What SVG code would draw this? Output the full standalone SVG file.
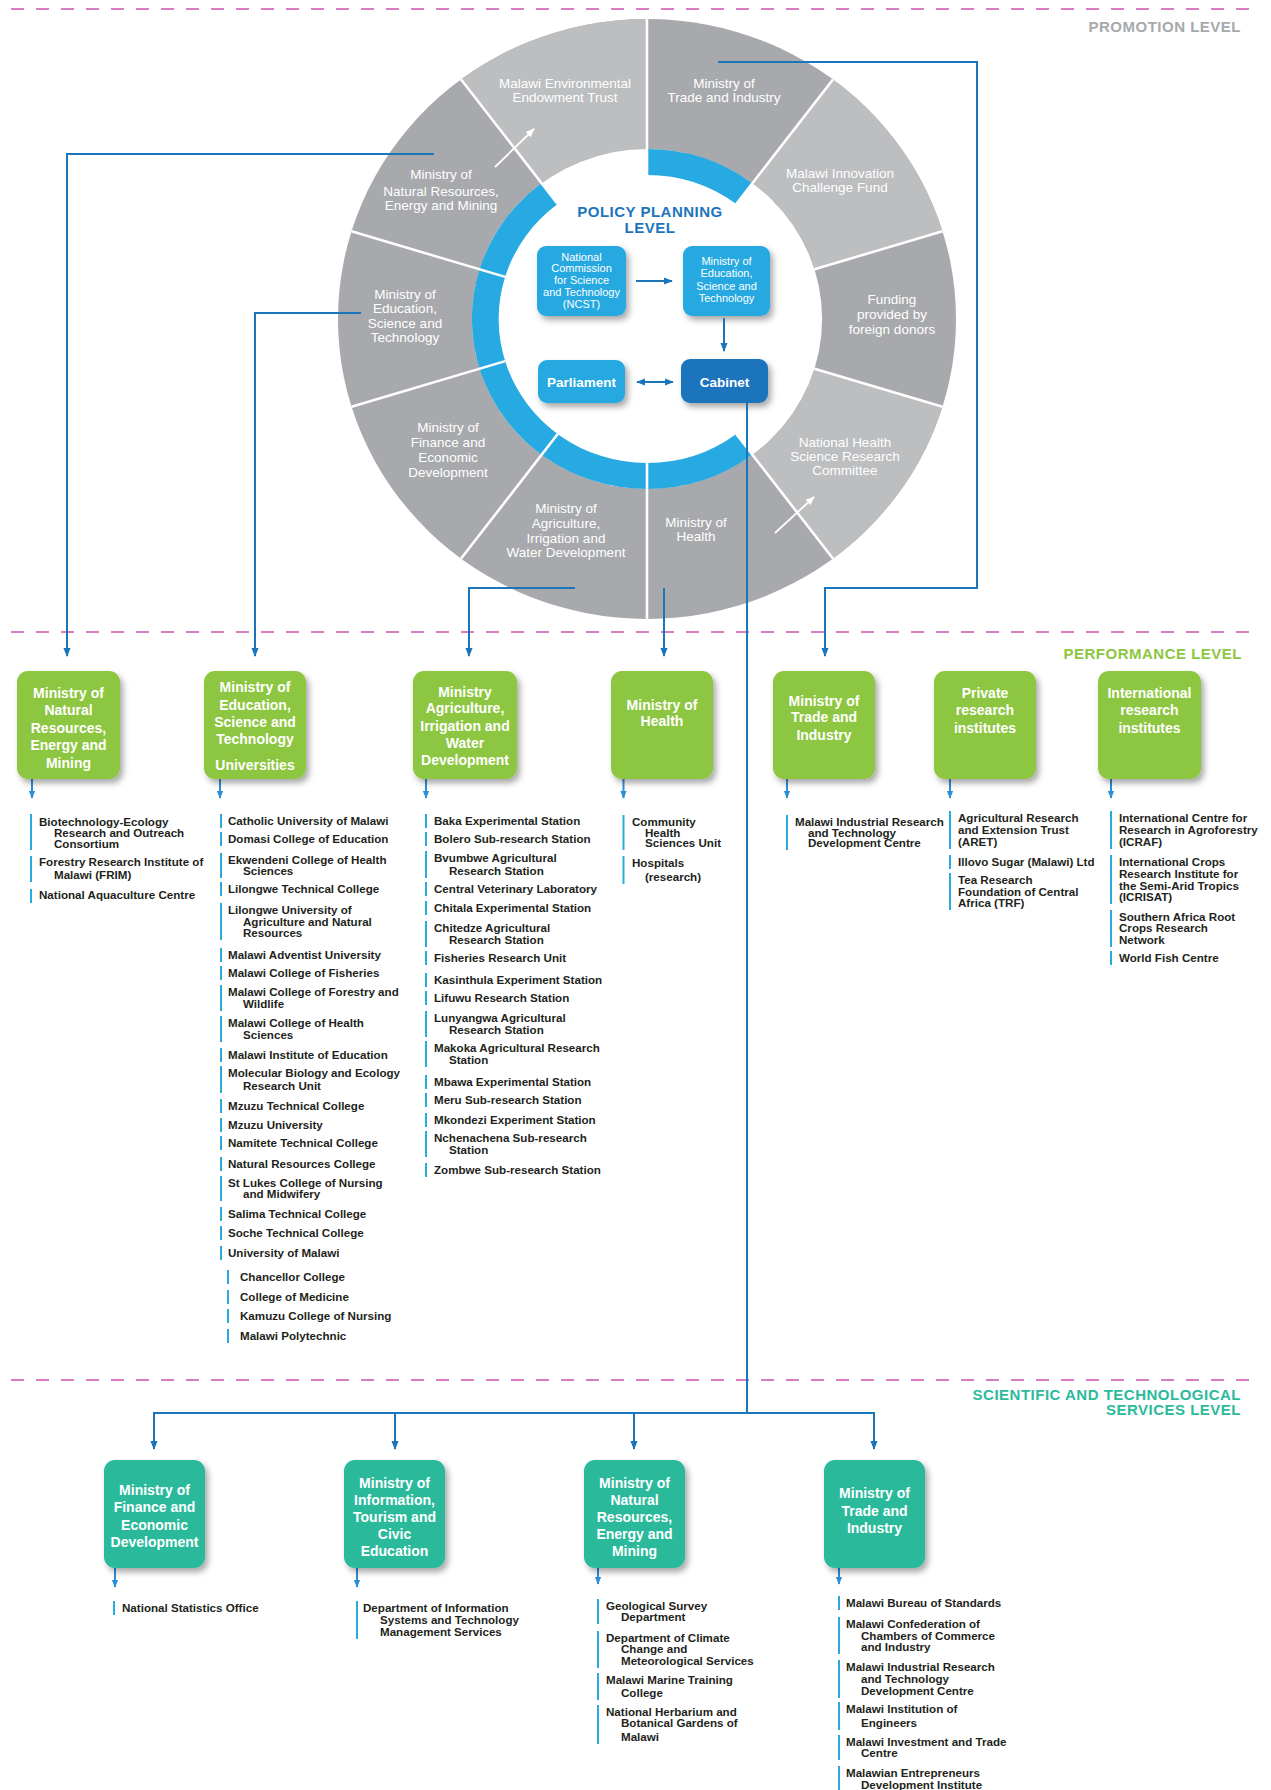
<svg xmlns="http://www.w3.org/2000/svg" width="1271" height="1790" viewBox="0 0 1271 1790">
<defs>
<style>
.seg{font-family:"Liberation Sans",Arial,sans-serif;font-size:13.5px;fill:#fff;text-anchor:middle}
.in{font-family:"Liberation Sans",Arial,sans-serif;font-size:11px;fill:#fff;text-anchor:middle}
.inb{font-family:"Liberation Sans",Arial,sans-serif;font-size:13.5px;font-weight:bold;fill:#fff;text-anchor:middle}
.bx{font-family:"Liberation Sans",Arial,sans-serif;font-size:14px;font-weight:bold;fill:#fff;text-anchor:middle}
.li{font-family:"Liberation Sans",Arial,sans-serif;font-size:11.6px;font-weight:bold;fill:#231f20}
.bar{stroke:#29abe2;stroke-width:2}
.lvl{font-family:"Liberation Sans",Arial,sans-serif;font-size:15px;font-weight:bold;letter-spacing:0.5px;text-anchor:end}
.con{stroke:#1b75bb;stroke-width:2;fill:none}
.sub{stroke:#2b8fd6;stroke-width:2;fill:none}
.dash{stroke:#da7cc2;stroke-width:2;stroke-dasharray:13 12}
.div{stroke:#fff;stroke-width:2.5}
.green{fill:#8dc63f}
.teal{fill:#2bba9b}
</style>
<filter id="sh" x="-20%" y="-20%" width="150%" height="150%"><feDropShadow dx="3" dy="4" stdDeviation="3" flood-color="#000" flood-opacity="0.35"/></filter>
<marker id="ah" viewBox="0 0 10 10" refX="9" refY="5" markerWidth="9" markerHeight="9" markerUnits="userSpaceOnUse" orient="auto-start-reverse"><path d="M0,1 L10,5 L0,9 Z" fill="#1b75bb"/></marker>
<marker id="ah2" viewBox="0 0 10 10" refX="9" refY="5" markerWidth="8" markerHeight="8" markerUnits="userSpaceOnUse" orient="auto"><path d="M0,1 L10,5 L0,9 Z" fill="#2b8fd6"/></marker>
<marker id="aw" viewBox="0 0 10 10" refX="9" refY="5" markerWidth="9" markerHeight="9" markerUnits="userSpaceOnUse" orient="auto"><path d="M0,1 L10,5 L0,9 Z" fill="#fff"/></marker>
</defs>
<rect width="1271" height="1790" fill="#fff"/>

<g id="levels">
<line class="dash" x1="11" y1="9" x2="1256" y2="9"/>
<line class="dash" x1="11" y1="632" x2="1256" y2="632"/>
<line class="dash" x1="11" y1="1380" x2="1256" y2="1380"/>
<text class="lvl" x="1241" y="32" fill="#a7a9ac">PROMOTION LEVEL</text>
<text class="lvl" x="1242" y="659" fill="#8dc63f">PERFORMANCE LEVEL</text>
<text class="lvl" x="1241" y="1400" fill="#2bba9b">SCIENTIFIC AND TECHNOLOGICAL</text>
<text class="lvl" x="1241" y="1415" fill="#2bba9b">SERVICES LEVEL</text>
</g>

<g id="wheel">
<g transform="matrix(1.03,0,0,1,-19.41,0)">
<circle cx="647" cy="319" r="300" fill="#a7a9ac"/>
<path d="M827.5,79.4 A300,300 0 0 1 933.9,231.3 L809.6,269.3 A170,170 0 0 0 749.3,183.2 Z" fill="#bcbec0"/>
<path d="M933.9,406.7 A300,300 0 0 1 827.5,558.6 L749.3,454.8 A170,170 0 0 0 809.6,368.7 Z" fill="#bcbec0"/>
<path d="M466.5,79.4 A300,300 0 0 1 647,19 L647,149 A170,170 0 0 0 544.7,183.2 Z" fill="#bcbec0"/>
<circle cx="647" cy="319" r="170" fill="#fff"/>
<path d="M647,149 A170,170 0 0 1 749.3,183.2 L733.7,204 A144,144 0 0 0 647,175 Z" fill="#27a9e1"/>
<path d="M749.3,454.8 A170,170 0 0 1 647,489 A170,170 0 0 1 544.7,183.2 L560.3,204 A144,144 0 0 0 647,463 A144,144 0 0 0 733.7,434 Z" fill="#27a9e1"/>
<line class="div" x1="647" y1="175" x2="647" y2="19"/>
<line class="div" x1="733.7" y1="204" x2="827.5" y2="79.4"/>
<line class="div" x1="809.6" y1="269.3" x2="933.9" y2="231.3"/>
<line class="div" x1="809.6" y1="368.7" x2="933.9" y2="406.7"/>
<line class="div" x1="733.7" y1="434" x2="827.5" y2="558.6"/>
<line class="div" x1="647" y1="463" x2="647" y2="619"/>
<line class="div" x1="560.3" y1="434" x2="466.5" y2="558.6"/>
<line class="div" x1="509.3" y1="361.1" x2="360.1" y2="406.7"/>
<line class="div" x1="509.3" y1="276.9" x2="360.1" y2="231.3"/>
<line class="div" x1="560.3" y1="204" x2="466.5" y2="79.4"/>
</g>
<line x1="495" y1="167" x2="534" y2="129" stroke="#fff" stroke-width="1.8" marker-end="url(#aw)"/>
<line x1="775" y1="533" x2="814" y2="497" stroke="#fff" stroke-width="1.8" marker-end="url(#aw)"/>
<text class="seg" x="565" y="88">Malawi Environmental</text>
<text class="seg" x="565" y="102">Endowment Trust</text>
<text class="seg" x="724" y="88">Ministry of</text>
<text class="seg" x="724" y="102">Trade and Industry</text>
<text class="seg" x="840" y="178">Malawi Innovation</text>
<text class="seg" x="840" y="192">Challenge Fund</text>
<text class="seg" x="892" y="304">Funding</text>
<text class="seg" x="892" y="319">provided by</text>
<text class="seg" x="892" y="334">foreign donors</text>
<text class="seg" x="845" y="447">National Health</text>
<text class="seg" x="845" y="461">Science Research</text>
<text class="seg" x="845" y="475">Committee</text>
<text class="seg" x="696" y="527">Ministry of</text>
<text class="seg" x="696" y="541">Health</text>
<text class="seg" x="566" y="513">Ministry of</text>
<text class="seg" x="566" y="528">Agriculture,</text>
<text class="seg" x="566" y="543">Irrigation and</text>
<text class="seg" x="566" y="557">Water Development</text>
<text class="seg" x="448" y="432">Ministry of</text>
<text class="seg" x="448" y="447">Finance and</text>
<text class="seg" x="448" y="462">Economic</text>
<text class="seg" x="448" y="477">Development</text>
<text class="seg" x="405" y="299">Ministry of</text>
<text class="seg" x="405" y="313">Education,</text>
<text class="seg" x="405" y="328">Science and</text>
<text class="seg" x="405" y="342">Technology</text>
<text class="seg" x="441" y="179">Ministry of</text>
<text class="seg" x="441" y="196">Natural Resources,</text>
<text class="seg" x="441" y="210">Energy and Mining</text>
</g>

<g id="policy-title">
<text x="650" y="217" font-family="Liberation Sans, Arial, sans-serif" font-size="15" font-weight="bold" letter-spacing="0.5" fill="#1c75bc" text-anchor="middle">POLICY PLANNING</text>
<text x="650" y="233" font-family="Liberation Sans, Arial, sans-serif" font-size="15" font-weight="bold" letter-spacing="0.5" fill="#1c75bc" text-anchor="middle">LEVEL</text>
</g>

<g id="ncst">
<rect x="537" y="246" width="89" height="70" rx="9" fill="#27a9e1" filter="url(#sh)"/>
<text class="in" x="581.5" y="261">National</text>
<text class="in" x="581.5" y="272">Commission</text>
<text class="in" x="581.5" y="284">for Science</text>
<text class="in" x="581.5" y="296">and Technology</text>
<text class="in" x="581.5" y="308">(NCST)</text>
</g>
<g id="moest-policy">
<rect x="683" y="246" width="87" height="70" rx="9" fill="#27a9e1" filter="url(#sh)"/>
<text class="in" x="726.5" y="265">Ministry of</text>
<text class="in" x="726.5" y="277">Education,</text>
<text class="in" x="726.5" y="290">Science and</text>
<text class="in" x="726.5" y="302">Technology</text>
</g>
<g id="parliament">
<rect x="538" y="360" width="87" height="43" rx="9" fill="#27a9e1" filter="url(#sh)"/>
<text class="inb" x="581.5" y="387">Parliament</text>
</g>
<g id="cabinet">
<rect x="681" y="359" width="87" height="44" rx="9" fill="#1c75bc" filter="url(#sh)"/>
<text class="inb" x="724.5" y="387">Cabinet</text>
</g>

<g id="connectors">
<line class="con" x1="636" y1="281" x2="672" y2="281" marker-end="url(#ah)"/>
<line class="con" x1="724" y1="318" x2="724" y2="351" marker-end="url(#ah)"/>
<line class="con" x1="637" y1="382" x2="673" y2="382" marker-start="url(#ah)" marker-end="url(#ah)"/>
<path class="con" d="M434,154 H67 V656" marker-end="url(#ah)"/>
<path class="con" d="M361,313 H255 V656" marker-end="url(#ah)"/>
<path class="con" d="M575,588 H469 V656" marker-end="url(#ah)"/>
<path class="con" d="M664,588 V656" marker-end="url(#ah)"/>
<path class="con" d="M718,62 H977 V588 H825 V656" marker-end="url(#ah)"/>
<path class="con" d="M747,403 V1413"/>
<path class="con" d="M154,1413 H875"/>
<line class="con" x1="154" y1="1412" x2="154" y2="1449" marker-end="url(#ah)"/>
<line class="con" x1="395" y1="1413" x2="395" y2="1449" marker-end="url(#ah)"/>
<line class="con" x1="634" y1="1413" x2="634" y2="1449" marker-end="url(#ah)"/>
<line class="con" x1="874" y1="1412" x2="874" y2="1449" marker-end="url(#ah)"/>
<line class="sub" x1="32" y1="779" x2="32" y2="798" marker-end="url(#ah2)"/>
<line class="sub" x1="220" y1="779" x2="220" y2="798" marker-end="url(#ah2)"/>
<line class="sub" x1="426" y1="779" x2="426" y2="798" marker-end="url(#ah2)"/>
<line class="sub" x1="623.5" y1="779" x2="623.5" y2="798" marker-end="url(#ah2)"/>
<line class="sub" x1="787" y1="779" x2="787" y2="798" marker-end="url(#ah2)"/>
<line class="sub" x1="950" y1="779" x2="950" y2="798" marker-end="url(#ah2)"/>
<line class="sub" x1="1111" y1="779" x2="1111" y2="798" marker-end="url(#ah2)"/>
<line class="sub" x1="115" y1="1568" x2="115" y2="1587" marker-end="url(#ah2)"/>
<line class="sub" x1="357" y1="1568" x2="357" y2="1587" marker-end="url(#ah2)"/>
<line class="sub" x1="598" y1="1568" x2="598" y2="1584" marker-end="url(#ah2)"/>
<line class="sub" x1="839" y1="1568" x2="839" y2="1584" marker-end="url(#ah2)"/>
</g>

<g id="perf-natres">
<rect class="green" x="17" y="671" width="103" height="108" rx="11" filter="url(#sh)"/>
<text class="bx" x="68.5" y="698">Ministry of</text>
<text class="bx" x="68.5" y="715">Natural</text>
<text class="bx" x="68.5" y="733">Resources,</text>
<text class="bx" x="68.5" y="750">Energy and</text>
<text class="bx" x="68.5" y="768">Mining</text>
</g>
<g id="perf-education">
<rect class="green" x="204" y="671" width="102" height="108" rx="11" filter="url(#sh)"/>
<text class="bx" x="255" y="692">Ministry of</text>
<text class="bx" x="255" y="710">Education,</text>
<text class="bx" x="255" y="727">Science and</text>
<text class="bx" x="255" y="744">Technology</text>
<text class="bx" x="255" y="770">Universities</text>
</g>
<g id="perf-agriculture">
<rect class="green" x="413" y="671" width="104" height="108" rx="11" filter="url(#sh)"/>
<text class="bx" x="465" y="697">Ministry</text>
<text class="bx" x="465" y="713">Agriculture,</text>
<text class="bx" x="465" y="731">Irrigation and</text>
<text class="bx" x="465" y="748">Water</text>
<text class="bx" x="465" y="765">Development</text>
</g>
<g id="perf-health">
<rect class="green" x="611" y="671" width="102" height="108" rx="11" filter="url(#sh)"/>
<text class="bx" x="662" y="710">Ministry of</text>
<text class="bx" x="662" y="726">Health</text>
</g>
<g id="perf-trade">
<rect class="green" x="773" y="671" width="102" height="108" rx="11" filter="url(#sh)"/>
<text class="bx" x="824" y="706">Ministry of</text>
<text class="bx" x="824" y="722">Trade and</text>
<text class="bx" x="824" y="740">Industry</text>
</g>
<g id="perf-private">
<rect class="green" x="934" y="671" width="102" height="108" rx="11" filter="url(#sh)"/>
<text class="bx" x="985" y="698">Private</text>
<text class="bx" x="985" y="715">research</text>
<text class="bx" x="985" y="733">institutes</text>
</g>
<g id="perf-international">
<rect class="green" x="1098" y="671" width="103" height="108" rx="11" filter="url(#sh)"/>
<text class="bx" x="1149.5" y="698">International</text>
<text class="bx" x="1149.5" y="715">research</text>
<text class="bx" x="1149.5" y="733">institutes</text>
</g>

<g id="list-natres">
<line class="bar" x1="31" y1="814" x2="31" y2="850"/><line class="bar" x1="31" y1="856" x2="31" y2="882"/><line class="bar" x1="31" y1="889" x2="31" y2="903"/>
<text class="li" x="39" y="826">Biotechnology-Ecology</text>
<text class="li" x="54" y="837">Research and Outreach</text>
<text class="li" x="54" y="848">Consortium</text>
<text class="li" x="39" y="866">Forestry Research Institute of</text>
<text class="li" x="54" y="879">Malawi (FRIM)</text>
<text class="li" x="39" y="899">National Aquaculture Centre</text>
</g>

<g id="list-education">
<line class="bar" x1="221" y1="814" x2="221" y2="828"/>
<line class="bar" x1="221" y1="832" x2="221" y2="846"/>
<line class="bar" x1="221" y1="853" x2="221" y2="878"/>
<line class="bar" x1="221" y1="882" x2="221" y2="896"/>
<line class="bar" x1="221" y1="903" x2="221" y2="940"/>
<line class="bar" x1="221" y1="948" x2="221" y2="962"/>
<line class="bar" x1="221" y1="966" x2="221" y2="980"/>
<line class="bar" x1="221" y1="985" x2="221" y2="1011"/>
<line class="bar" x1="221" y1="1016" x2="221" y2="1042"/>
<line class="bar" x1="221" y1="1048" x2="221" y2="1062"/>
<line class="bar" x1="221" y1="1066" x2="221" y2="1093"/>
<line class="bar" x1="221" y1="1099" x2="221" y2="1113"/>
<line class="bar" x1="221" y1="1118" x2="221" y2="1132"/>
<line class="bar" x1="221" y1="1136" x2="221" y2="1150"/>
<line class="bar" x1="221" y1="1157" x2="221" y2="1171"/>
<line class="bar" x1="221" y1="1176" x2="221" y2="1201"/>
<line class="bar" x1="221" y1="1207" x2="221" y2="1221"/>
<line class="bar" x1="221" y1="1226" x2="221" y2="1240"/>
<line class="bar" x1="221" y1="1246" x2="221" y2="1260"/>
<line class="bar" x1="228" y1="1270" x2="228" y2="1284"/>
<line class="bar" x1="228" y1="1290" x2="228" y2="1304"/>
<line class="bar" x1="228" y1="1309" x2="228" y2="1323"/>
<line class="bar" x1="228" y1="1329" x2="228" y2="1343"/>
<text class="li" x="228" y="825">Catholic University of Malawi</text>
<text class="li" x="228" y="843">Domasi College of Education</text>
<text class="li" x="228" y="864">Ekwendeni College of Health</text>
<text class="li" x="243" y="875">Sciences</text>
<text class="li" x="228" y="893">Lilongwe Technical College</text>
<text class="li" x="228" y="914">Lilongwe University of</text>
<text class="li" x="243" y="926">Agriculture and Natural</text>
<text class="li" x="243" y="937">Resources</text>
<text class="li" x="228" y="959">Malawi Adventist University</text>
<text class="li" x="228" y="977">Malawi College of Fisheries</text>
<text class="li" x="228" y="996">Malawi College of Forestry and</text>
<text class="li" x="243" y="1008">Wildlife</text>
<text class="li" x="228" y="1027">Malawi College of Health</text>
<text class="li" x="243" y="1039">Sciences</text>
<text class="li" x="228" y="1059">Malawi Institute of Education</text>
<text class="li" x="228" y="1077">Molecular Biology and Ecology</text>
<text class="li" x="243" y="1090">Research Unit</text>
<text class="li" x="228" y="1110">Mzuzu Technical College</text>
<text class="li" x="228" y="1129">Mzuzu University</text>
<text class="li" x="228" y="1147">Namitete Technical College</text>
<text class="li" x="228" y="1168">Natural Resources College</text>
<text class="li" x="228" y="1187">St Lukes College of Nursing</text>
<text class="li" x="243" y="1198">and Midwifery</text>
<text class="li" x="228" y="1218">Salima Technical College</text>
<text class="li" x="228" y="1237">Soche Technical College</text>
<text class="li" x="228" y="1257">University of Malawi</text>
<text class="li" x="240" y="1281">Chancellor College</text>
<text class="li" x="240" y="1301">College of Medicine</text>
<text class="li" x="240" y="1320">Kamuzu College of Nursing</text>
<text class="li" x="240" y="1340">Malawi Polytechnic</text>
</g>

<g id="list-agriculture">
<line class="bar" x1="426" y1="814" x2="426" y2="828"/>
<line class="bar" x1="426" y1="832" x2="426" y2="846"/>
<line class="bar" x1="426" y1="851" x2="426" y2="878"/>
<line class="bar" x1="426" y1="882" x2="426" y2="896"/>
<line class="bar" x1="426" y1="901" x2="426" y2="915"/>
<line class="bar" x1="426" y1="921" x2="426" y2="947"/>
<line class="bar" x1="426" y1="951" x2="426" y2="965"/>
<line class="bar" x1="426" y1="973" x2="426" y2="987"/>
<line class="bar" x1="426" y1="991" x2="426" y2="1005"/>
<line class="bar" x1="426" y1="1011" x2="426" y2="1037"/>
<line class="bar" x1="426" y1="1041" x2="426" y2="1067"/>
<line class="bar" x1="426" y1="1075" x2="426" y2="1089"/>
<line class="bar" x1="426" y1="1093" x2="426" y2="1107"/>
<line class="bar" x1="426" y1="1113" x2="426" y2="1127"/>
<line class="bar" x1="426" y1="1131" x2="426" y2="1157"/>
<line class="bar" x1="426" y1="1163" x2="426" y2="1177"/>
<text class="li" x="434" y="825">Baka Experimental Station</text>
<text class="li" x="434" y="843">Bolero Sub-research Station</text>
<text class="li" x="434" y="862">Bvumbwe Agricultural</text>
<text class="li" x="449" y="875">Research Station</text>
<text class="li" x="434" y="893">Central Veterinary Laboratory</text>
<text class="li" x="434" y="912">Chitala Experimental Station</text>
<text class="li" x="434" y="932">Chitedze Agricultural</text>
<text class="li" x="449" y="944">Research Station</text>
<text class="li" x="434" y="962">Fisheries Research Unit</text>
<text class="li" x="434" y="984">Kasinthula Experiment Station</text>
<text class="li" x="434" y="1002">Lifuwu Research Station</text>
<text class="li" x="434" y="1022">Lunyangwa Agricultural</text>
<text class="li" x="449" y="1034">Research Station</text>
<text class="li" x="434" y="1052">Makoka Agricultural Research</text>
<text class="li" x="449" y="1064">Station</text>
<text class="li" x="434" y="1086">Mbawa Experimental Station</text>
<text class="li" x="434" y="1104">Meru Sub-research Station</text>
<text class="li" x="434" y="1124">Mkondezi Experiment Station</text>
<text class="li" x="434" y="1142">Nchenachena Sub-research</text>
<text class="li" x="449" y="1154">Station</text>
<text class="li" x="434" y="1174">Zombwe Sub-research Station</text>
</g>

<g id="list-health">
<line class="bar" x1="623.5" y1="815" x2="623.5" y2="850"/>
<line class="bar" x1="623.5" y1="856" x2="623.5" y2="884"/>
<text class="li" x="632" y="826">Community</text>
<text class="li" x="645" y="837">Health</text>
<text class="li" x="645" y="847">Sciences Unit</text>
<text class="li" x="632" y="867">Hospitals</text>
<text class="li" x="645" y="881">(research)</text>
</g>

<g id="list-trade">
<line class="bar" x1="787" y1="815" x2="787" y2="850"/>
<text class="li" x="795" y="826">Malawi Industrial Research</text>
<text class="li" x="808" y="837">and Technology</text>
<text class="li" x="808" y="847">Development Centre</text>
</g>

<g id="list-private">
<line class="bar" x1="950" y1="811" x2="950" y2="849"/>
<line class="bar" x1="950" y1="855" x2="950" y2="869"/>
<line class="bar" x1="950" y1="873" x2="950" y2="910"/>
<text class="li" x="958" y="822">Agricultural Research</text>
<text class="li" x="958" y="834">and Extension Trust</text>
<text class="li" x="958" y="846">(ARET)</text>
<text class="li" x="958" y="866">Illovo Sugar (Malawi) Ltd</text>
<text class="li" x="958" y="884">Tea Research</text>
<text class="li" x="958" y="896">Foundation of Central</text>
<text class="li" x="958" y="907">Africa (TRF)</text>
</g>

<g id="list-international">
<line class="bar" x1="1111" y1="811" x2="1111" y2="849"/>
<line class="bar" x1="1111" y1="855" x2="1111" y2="904"/>
<line class="bar" x1="1111" y1="910" x2="1111" y2="947"/>
<line class="bar" x1="1111" y1="951" x2="1111" y2="965"/>
<text class="li" x="1119" y="822">International Centre for</text>
<text class="li" x="1119" y="834">Research in Agroforestry</text>
<text class="li" x="1119" y="846">(ICRAF)</text>
<text class="li" x="1119" y="866">International Crops</text>
<text class="li" x="1119" y="878">Research Institute for</text>
<text class="li" x="1119" y="890">the Semi-Arid Tropics</text>
<text class="li" x="1119" y="901">(ICRISAT)</text>
<text class="li" x="1119" y="921">Southern Africa Root</text>
<text class="li" x="1119" y="932">Crops Research</text>
<text class="li" x="1119" y="944">Network</text>
<text class="li" x="1119" y="962">World Fish Centre</text>
</g>

<g id="sts-finance">
<rect class="teal" x="104" y="1460" width="101" height="108" rx="11" filter="url(#sh)"/>
<text class="bx" x="154.5" y="1495">Ministry of</text>
<text class="bx" x="154.5" y="1512">Finance and</text>
<text class="bx" x="154.5" y="1530">Economic</text>
<text class="bx" x="154.5" y="1547">Development</text>
</g>
<g id="sts-information">
<rect class="teal" x="344" y="1460" width="101" height="108" rx="11" filter="url(#sh)"/>
<text class="bx" x="394.5" y="1488">Ministry of</text>
<text class="bx" x="394.5" y="1505">Information,</text>
<text class="bx" x="394.5" y="1522">Tourism and</text>
<text class="bx" x="394.5" y="1539">Civic</text>
<text class="bx" x="394.5" y="1556">Education</text>
</g>
<g id="sts-natres">
<rect class="teal" x="584" y="1460" width="101" height="108" rx="11" filter="url(#sh)"/>
<text class="bx" x="634.5" y="1488">Ministry of</text>
<text class="bx" x="634.5" y="1505">Natural</text>
<text class="bx" x="634.5" y="1522">Resources,</text>
<text class="bx" x="634.5" y="1539">Energy and</text>
<text class="bx" x="634.5" y="1556">Mining</text>
</g>
<g id="sts-trade">
<rect class="teal" x="824" y="1460" width="101" height="108" rx="11" filter="url(#sh)"/>
<text class="bx" x="874.5" y="1498">Ministry of</text>
<text class="bx" x="874.5" y="1516">Trade and</text>
<text class="bx" x="874.5" y="1533">Industry</text>
</g>

<g id="list-sts-finance">
<line class="bar" x1="114" y1="1601" x2="114" y2="1615"/>
<text class="li" x="122" y="1612">National Statistics Office</text>
</g>
<g id="list-sts-information">
<line class="bar" x1="357" y1="1601" x2="357" y2="1639"/>
<text class="li" x="363" y="1612">Department of Information</text>
<text class="li" x="380" y="1624">Systems and Technology</text>
<text class="li" x="380" y="1636">Management Services</text>
</g>
<g id="list-sts-natres">
<line class="bar" x1="598" y1="1599" x2="598" y2="1624"/>
<line class="bar" x1="598" y1="1631" x2="598" y2="1668"/>
<line class="bar" x1="598" y1="1673" x2="598" y2="1700"/>
<line class="bar" x1="598" y1="1705" x2="598" y2="1744"/>
<text class="li" x="606" y="1610">Geological Survey</text>
<text class="li" x="621" y="1621">Department</text>
<text class="li" x="606" y="1642">Department of Climate</text>
<text class="li" x="621" y="1653">Change and</text>
<text class="li" x="621" y="1665">Meteorological Services</text>
<text class="li" x="606" y="1684">Malawi Marine Training</text>
<text class="li" x="621" y="1697">College</text>
<text class="li" x="606" y="1716">National Herbarium and</text>
<text class="li" x="621" y="1727">Botanical Gardens of</text>
<text class="li" x="621" y="1741">Malawi</text>
</g>
<g id="list-sts-trade">
<line class="bar" x1="839" y1="1596" x2="839" y2="1610"/>
<line class="bar" x1="839" y1="1617" x2="839" y2="1654"/>
<line class="bar" x1="839" y1="1660" x2="839" y2="1698"/>
<line class="bar" x1="839" y1="1702" x2="839" y2="1730"/>
<line class="bar" x1="839" y1="1735" x2="839" y2="1760"/>
<line class="bar" x1="839" y1="1766" x2="839" y2="1792"/>
<text class="li" x="846" y="1607">Malawi Bureau of Standards</text>
<text class="li" x="846" y="1628">Malawi Confederation of</text>
<text class="li" x="861" y="1640">Chambers of Commerce</text>
<text class="li" x="861" y="1651">and Industry</text>
<text class="li" x="846" y="1671">Malawi Industrial Research</text>
<text class="li" x="861" y="1683">and Technology</text>
<text class="li" x="861" y="1695">Development Centre</text>
<text class="li" x="846" y="1713">Malawi Institution of</text>
<text class="li" x="861" y="1727">Engineers</text>
<text class="li" x="846" y="1746">Malawi Investment and Trade</text>
<text class="li" x="861" y="1757">Centre</text>
<text class="li" x="846" y="1777">Malawian Entrepreneurs</text>
<text class="li" x="861" y="1789">Development Institute</text>
</g>
</svg>
